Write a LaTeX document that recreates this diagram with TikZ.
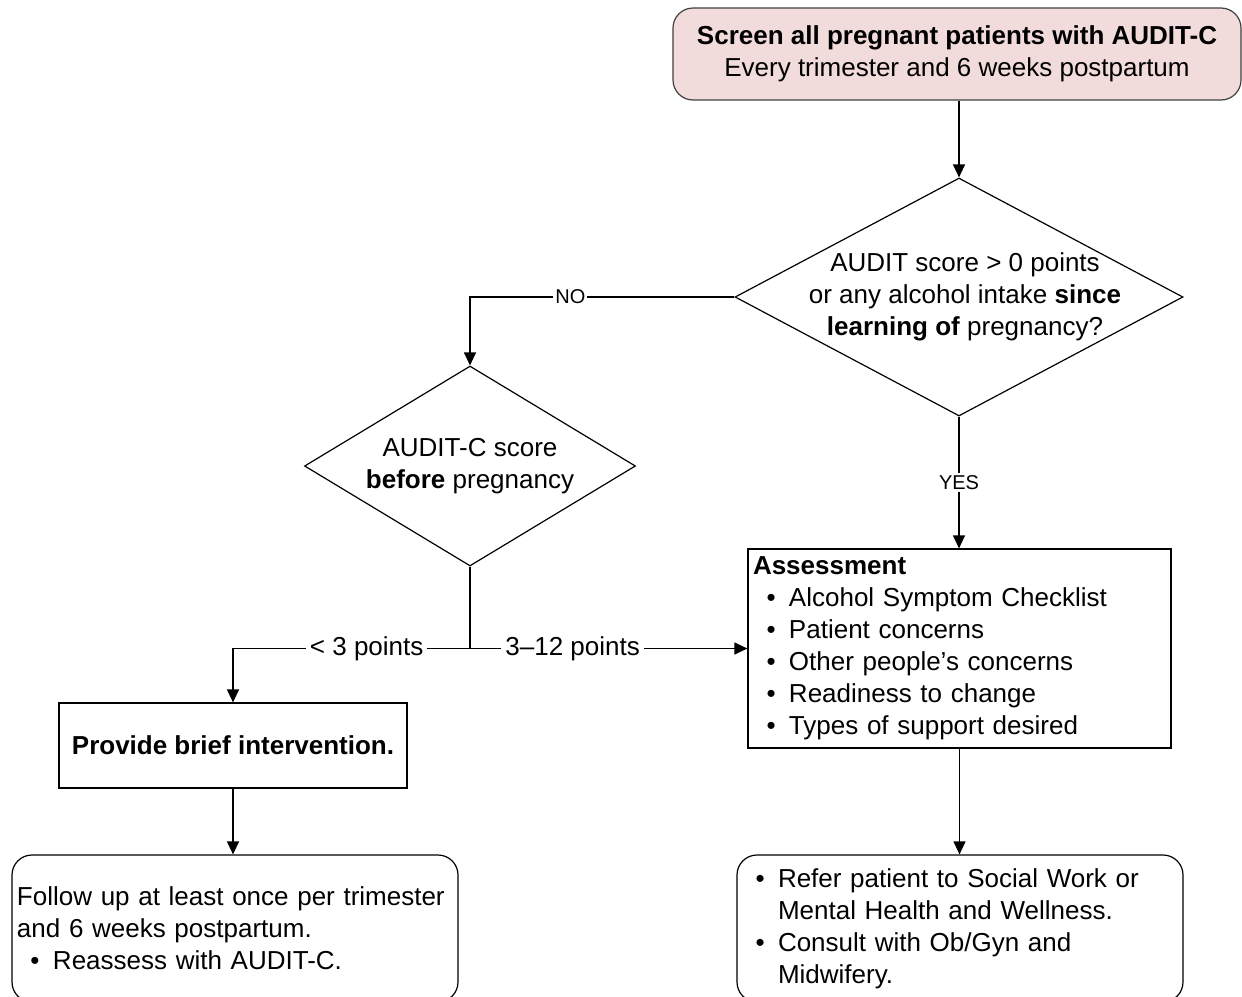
\documentclass[tikz,border=0pt]{standalone}
\usepackage{fontspec}
\setmainfont{Liberation Sans}
\usetikzlibrary{shapes.geometric,arrows.meta,positioning}
\definecolor{screenpink}{HTML}{F2DCDB}
\definecolor{screenline}{HTML}{404040}
\newcommand\bul{\hspace*{6.75pt}\makebox[11.25pt][l]{\textbullet}}
\newcommand\cont{\hspace*{18pt}}
\tikzset{
    pinkbox/.style ={
        shape=rectangle,
        rounded corners=10pt,
        draw=screenline,
        fill=screenpink,
        align=center,
        minimum width=284pt,
        minimum height=46pt
    },
    decision/.style ={
        shape=diamond,
        draw=black,
        inner sep=0pt
    },
    plainbox/.style ={
        shape=rectangle,
        draw=black,
        inner sep=2.5pt
    },
    roundbox/.style ={
        shape=rectangle,
        rounded corners=10pt,
        draw=black,
        inner sep=2.5pt,
        text width=218pt,
        align=left,
        minimum height=73.5pt
    },
    yesno/.style ={
        fill=white,
        inner sep=1pt,
        font=\fontsize{10}{12}\selectfont
    },
    points/.style ={
        fill=white,
        inner sep=2pt
    }
}

\begin{document}
\begin{tikzpicture}[x=0.5pt,y=-0.5pt,line width=0.6pt,
    font=\fontsize{13}{16}\selectfont,
    >={Triangle[length=6.5pt,width=6pt]}]
    \useasboundingbox (0,0) rectangle (1242,996);
    \clip (0,0) rectangle (1242,996);
    \node[pinkbox] (screen) at(957,54) {\textbf{Screen all pregnant patients with AUDIT-C}\\Every trimester and 6 weeks postpartum};
    \node[decision, minimum width=224pt, minimum height=119pt] (q1) at(959,297) {};
    \node[align=center] (q1text) at(965,297) {AUDIT score > 0 points\\or any alcohol intake \textbf{since}\\\textbf{learning of} pregnancy?};
    \node[decision, minimum width=165.5pt, minimum height=100pt] (q2) at(470,466) {};
    \node[align=center] (q2text) at(470,466) {AUDIT-C score\\\textbf{before} pregnancy};
    \node[plainbox, minimum width=174pt, minimum height=42.5pt] (brief) at(233,745.5) {\textbf{Provide brief intervention.}};
    \node[plainbox, text width=206.5pt, align=left, minimum height=99.5pt] (assess) at(959.5,648.5) {\textbf{Assessment}\\
        \bul Alcohol Symptom Checklist\\
        \bul Patient concerns\\
        \bul Other people’s concerns\\
        \bul Readiness to change\\
        \bul Types of support desired};
    \node[roundbox] (follow) at(235,928.5) {Follow up at least once per trimester\\
        and 6 weeks postpartum.\\
        \bul Reassess with AUDIT-C.};
    \node[roundbox] (refer) at(960,928.5) {\bul Refer patient to Social Work or\\
        \cont Mental Health and Wellness.\\
        \bul Consult with Ob/Gyn and\\
        \cont Midwifery.};
    \coordinate (split) at(q2.south |- assess.west);
    \draw[->] (q1.north |- screen.south) -- (q1.north);
    \draw[->] (q1.west) -| node[yesno, pos=0.31] {NO} (q2.north);
    \draw[->] (q1.south) -- node[yesno] {YES} (q1.south |- assess.north);
    \draw (q2.south) -- (split);
    \draw[->] (split) -| node[points, pos=0.218] {< 3 points} (brief.north);
    \draw[->] (split) -- node[points, pos=0.37] {3–12 points} (assess.west);
    \draw[->] (brief.south) -- (brief.south |- follow.north);
    \draw[->] (assess.south) -- (assess.south |- refer.north);
\end{tikzpicture}
\end{document}
